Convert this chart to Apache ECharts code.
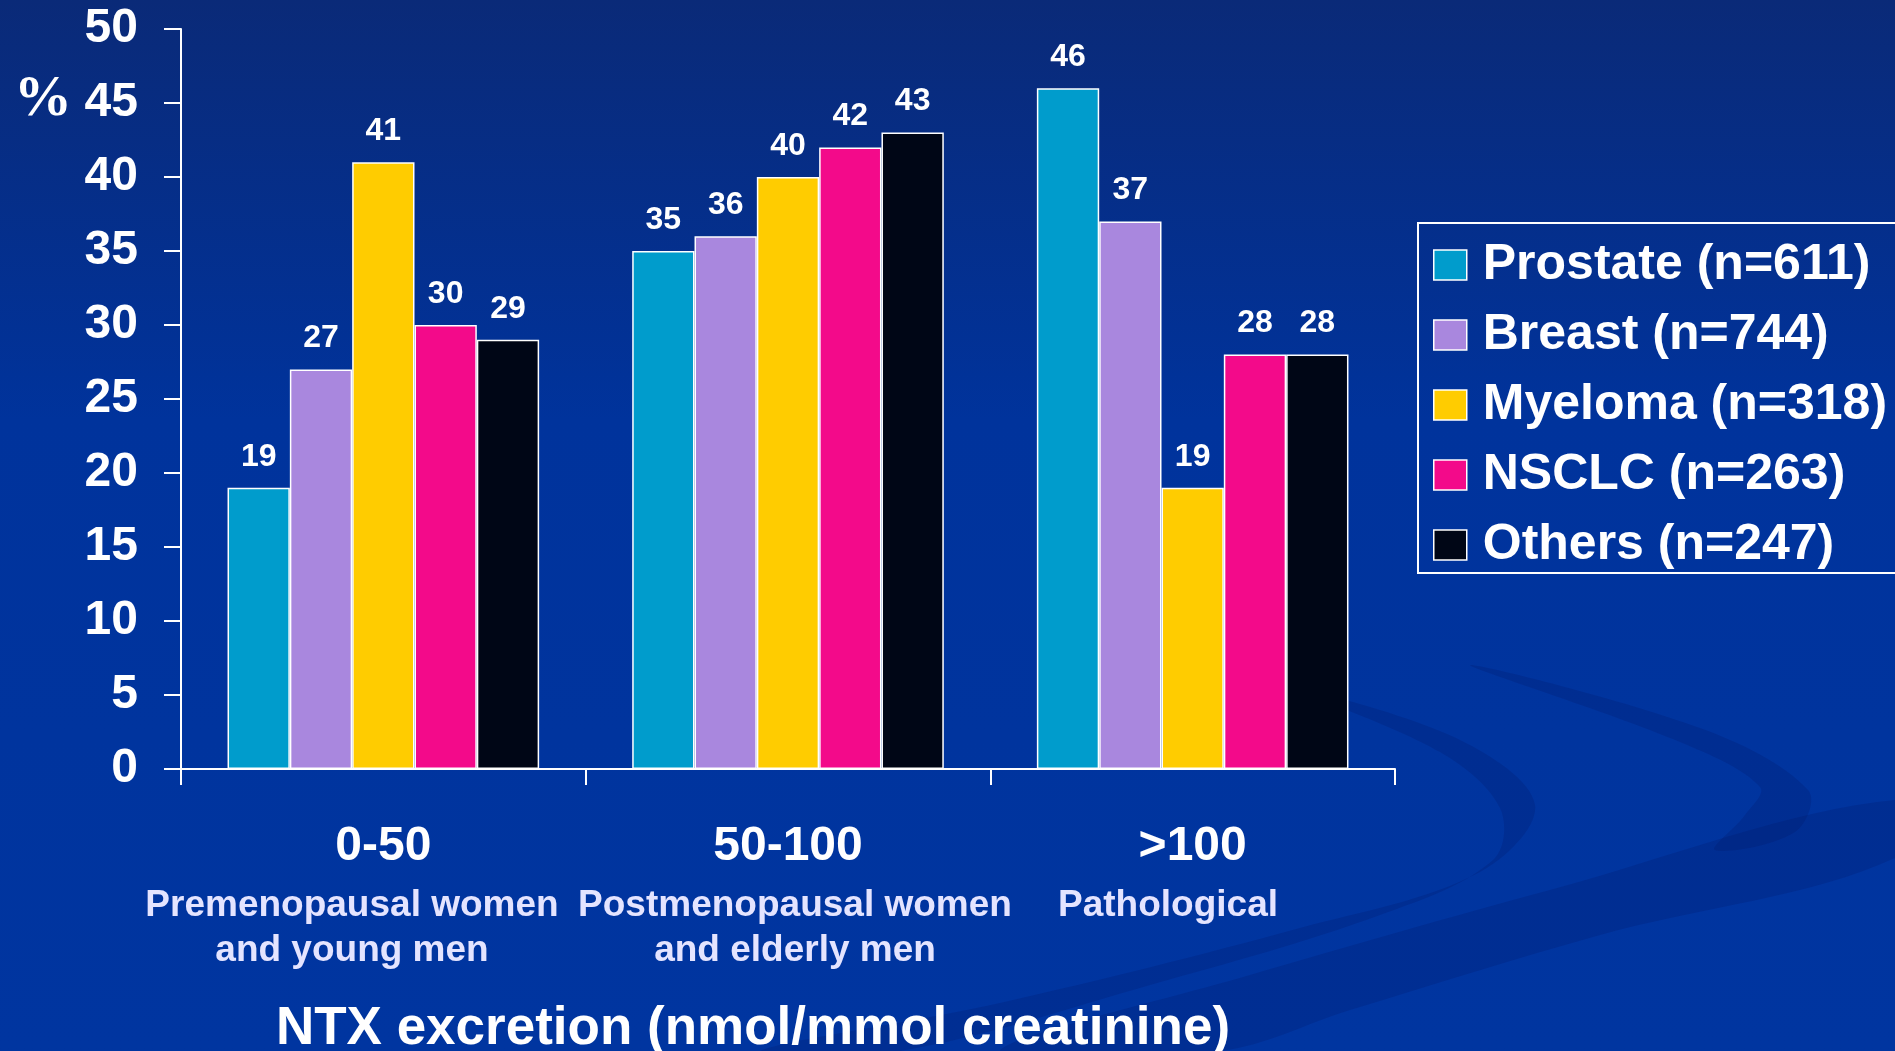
<!DOCTYPE html>
<html>
<head>
<meta charset="utf-8">
<title>NTX excretion by tumour type</title>
<script src="https://cdn.jsdelivr.net/npm/echarts@6/dist/echarts.min.js"></script>
<style>
  html, body { margin: 0; padding: 0; background: #0033a0; overflow: hidden; }
  #chart { width: 1895px; height: 1051px; }
</style>
</head>
<body>
<div id="chart"></div>
<script>
// NTX excretion bands and the share of patients (%) in each, per tumour type
const categories = ['0-50', '50-100', '>100'];
const subLabels = [
  ['Premenopausal women', 'and young men'],
  ['Postmenopausal women', 'and elderly men'],
  ['Pathological']
];
const seriesNames = ['Prostate (n=611)', 'Breast (n=744)', 'Myeloma (n=318)', 'NSCLC (n=263)', 'Others (n=247)'];
const prostate = [19, 35, 46];
const breast   = [27, 36, 37];
const myeloma  = [41, 40, 19];
const nsclc    = [30, 42, 28];
const others   = [29, 43, 28];
const yMin = 0, yMax = 50, yStep = 5;
const axisTitle = 'NTX excretion (nmol/mmol creatinine)';
const yUnit = '%';

const seriesValues = [prostate, breast, myeloma, nsclc, others];
const colors = ['#009ccc', '#a987de', '#ffcc00', '#f30a8a', '#000616'];
const FONT = '"Liberation Sans", Arial, Helvetica, sans-serif';

const chart = echarts.init(document.getElementById('chart'), null, { renderer: 'canvas' });

// faint background swooshes
const swooshFill = 'rgba(0,22,95,0.20)';
const swooshes = [
  [[1000,1051],[1250,975],[1550,890],[1895,800],[1895,858],[1600,935],[1350,1010],[1220,1051]],
  [[1300,690],[1460,740],[1535,805],[1480,872],[1300,928],[1000,1003],[760,1051],
   [900,1051],[1150,985],[1380,915],[1493,860],[1500,808],[1440,752]],
  [[1470,665],[1700,728],[1808,790],[1795,832],[1715,850],[1745,815],[1760,787],[1680,742]]
].map(pts => ({
  type: 'polygon', z: -10, silent: true,
  shape: { points: pts, smooth: 0.35 },
  style: { fill: swooshFill }
}));

// secondary lines under each band label
const subX = [352, 795, 1168];
const subTexts = [];
subLabels.forEach((lines, i) => {
  lines.forEach((line, j) => {
    subTexts.push({
      type: 'text', silent: true,
      x: subX[i], y: 906 + j * 45,
      style: {
        text: line, fill: '#e4e4ff', font: 'bold 37px ' + FONT,
        textAlign: 'center', textVerticalAlign: 'middle'
      }
    });
  });
});

const option = {
  backgroundColor: {
    type: 'linear', x: 0, y: 0, x2: 0, y2: 1,
    colorStops: [
      { offset: 0, color: '#0a2a78' },
      { offset: 0.4, color: '#00339c' },
      { offset: 1, color: '#0035a0' }
    ]
  },
  animation: false,
  color: colors,
  grid: { left: 181, right: 500, top: 29, bottom: 282, containLabel: false },
  legend: {
    orient: 'vertical',
    left: 1418, top: 223,
    itemWidth: 33, itemHeight: 30, itemGap: 20,
    padding: [17, 60, 3, 15],
    borderColor: '#ffffff', borderWidth: 2,
    icon: 'rect',
    selectedMode: false,
    itemStyle: { borderColor: '#ffffff', borderWidth: 1.5 },
    textStyle: {
      color: '#ffffff', fontSize: 50, fontWeight: 'bold', fontFamily: FONT,
      lineHeight: 50, padding: [0, 0, 0, 11]
    },
    data: seriesNames
  },
  xAxis: {
    type: 'category',
    data: categories,
    axisLine: { lineStyle: { color: '#ffffff', width: 2 } },
    axisTick: { show: true, length: 16, lineStyle: { color: '#ffffff', width: 2 } },
    axisLabel: { color: '#ffffff', fontSize: 48, fontWeight: 'bold', fontFamily: FONT, margin: 54 },
    splitLine: { show: false }
  },
  yAxis: {
    type: 'value',
    min: yMin, max: yMax, interval: yStep,
    axisLine: { show: true, lineStyle: { color: '#ffffff', width: 2 } },
    axisTick: { show: true, length: 17, lineStyle: { color: '#ffffff', width: 2 } },
    axisLabel: { color: '#ffffff', fontSize: 48, fontWeight: 'bold', fontFamily: FONT, margin: 43 },
    splitLine: { show: false }
  },
  series: seriesNames.map((name, i) => ({
    name: name,
    type: 'bar',
    data: seriesValues[i],
    barGap: '0%',
    barCategoryGap: '23%',
    itemStyle: { color: colors[i], borderColor: '#ffffff', borderWidth: 1.5 },
    label: {
      show: true, position: 'top', distance: 15,
      color: '#ffffff', fontSize: 32, fontWeight: 'bold', fontFamily: FONT
    }
  })),
  graphic: swooshes.concat(subTexts, [
    {
      type: 'text', silent: true, x: 43, y: 100,
      style: {
        text: yUnit, fill: '#ffffff', font: 'bold 58px "Liberation Serif", "Times New Roman", serif',
        textAlign: 'center', textVerticalAlign: 'middle'
      }
    },
    {
      type: 'text', silent: true, x: 753, y: 1029,
      style: {
        text: axisTitle, fill: '#ffffff', font: 'bold 53px ' + FONT,
        textAlign: 'center', textVerticalAlign: 'middle'
      }
    }
  ])
};

chart.setOption(option);
</script>
</body>
</html>
